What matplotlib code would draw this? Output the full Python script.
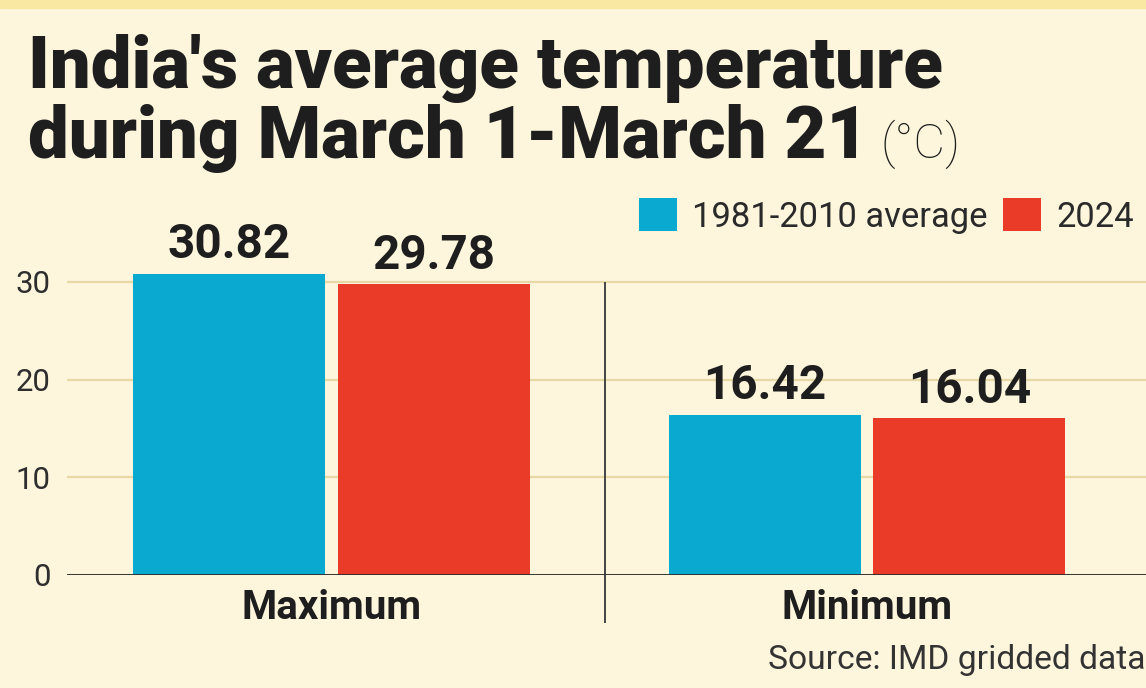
import matplotlib.pyplot as plt
import numpy as np
from matplotlib.patches import Patch, Rectangle

# data
categories = ["Maximum", "Minimum"]
series_names = ["1981-2010 average", "2024"]
avg_1981_2010 = [30.82, 16.42]
year_2024 = [29.78, 16.04]
yticks = [0, 10, 20, 30]

BLUE = "#0AA9CF"
RED = "#EA3B28"
BG = "#FDF6DC"
GRID = "#E8D8A6"
INK = "#1E1E1E"

FONT = ["Roboto", "DejaVu Sans"]
plt.rcParams["font.family"] = FONT

fig = plt.figure(figsize=(11.46, 6.88), dpi=100, facecolor=BG)
renderer = fig.canvas.get_renderer()


def fit_size(s, target_px, weight="normal", base=40):
    # font size that makes string s about target_px wide
    t = fig.text(0, 0, s, fontsize=base, fontweight=weight)
    w = t.get_window_extent(renderer=renderer).width
    t.remove()
    return base * target_px / w


# yellow strip along the top edge
fig.patches.append(Rectangle((0, 0.988), 1, 0.012, transform=fig.transFigure,
                             color="#F8E8A2", zorder=0))

ax = fig.add_axes([67 / 1146, 113 / 688, 1 - 67 / 1146, 322.4 / 688])
ax.set_facecolor(BG)

x = np.arange(len(categories))
w = 0.358
off = 0.191
b1 = ax.bar(x - off, avg_1981_2010, w, color=BLUE, zorder=3)
b2 = ax.bar(x + off, year_2024, w, color=RED, zorder=3)

val_fs = fit_size("30.82", 123, "bold")
for bars in (b1, b2):
    ax.bar_label(bars, fmt="%.2f", padding=4, fontsize=val_fs,
                 fontweight="bold", color=INK)

ax.set_xlim(-0.494, 1.521)
ax.set_ylim(0, 33)
ax.set_yticks(yticks)
ax.set_yticklabels([str(t) for t in yticks], fontsize=fit_size("30", 35),
                   color="#2E2E2E")
ax.tick_params(axis="y", length=0, pad=12)
ax.set_xticks(x)
ax.set_xticklabels(categories, fontsize=fit_size("Maximum", 180, "bold"),
                   fontweight="bold", color=INK)
ax.tick_params(axis="x", length=0, pad=10)

ax.yaxis.grid(True, color=GRID, linewidth=1.6, zorder=0)
ax.axhline(0, color="#2A2A2A", linewidth=2, zorder=4)
ax.axvline(0.51, ymin=-0.146, ymax=0.906, color="#444444", linewidth=1.4,
           clip_on=False, zorder=2)
for s in ax.spines.values():
    s.set_visible(False)

# title, two lines, with a light unit after the second line
title_fs = fit_size("India's average temperature", 914, "black")
fig.text(28 / 1146, 1 - 88 / 688, "India's average temperature",
         fontsize=title_fs, fontweight="black", color=INK, va="baseline",
         ha="left")
t2 = fig.text(28 / 1146, 1 - 158 / 688, "during March 1-March 21",
              fontsize=title_fs, fontweight="black", color=INK,
              va="baseline", ha="left")
bb = t2.get_window_extent(renderer=renderer)
fig.text((bb.x1 + 12) / 1146, 1 - 158 / 688, "(°C)",
         fontsize=fit_size("(°C)", 80, "light"), fontweight="light",
         color=INK, va="baseline", ha="left")

handles = [Patch(facecolor=BLUE), Patch(facecolor=RED)]
fig.legend(handles, series_names, loc="center right",
           bbox_to_anchor=(1.008, 1 - 216 / 688), ncol=2, frameon=False,
           fontsize=fit_size("1981-2010 average", 295), handlelength=1.1,
           handleheight=1.1, handletextpad=0.45, columnspacing=0.45,
           borderpad=0.1, labelcolor="#2A2A2A")

fig.text(1.0, 1 - 660 / 688, "Source: IMD gridded data",
         fontsize=fit_size("Source: IMD gridded data", 378),
         color="#333333", va="center", ha="right")

fig.savefig("out.png", dpi=100, facecolor=BG)
